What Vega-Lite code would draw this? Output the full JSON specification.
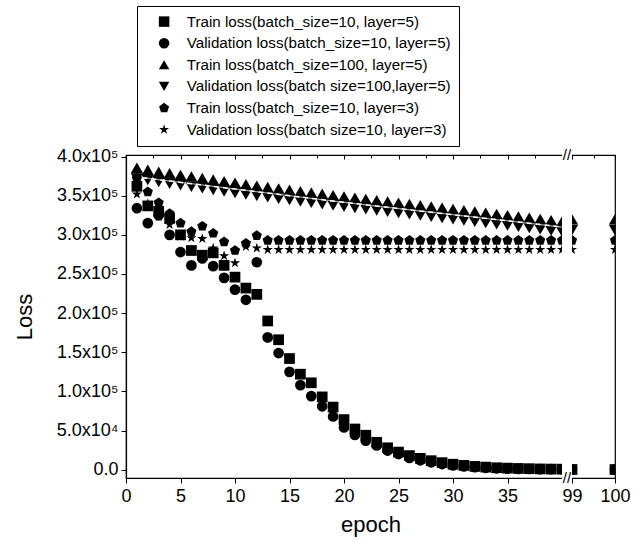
{
  "$schema": "https://vega.github.io/schema/vega-lite/v6.json",
  "autosize": {"type": "none"},
  "padding": {"left": 126, "top": 154, "right": 515, "bottom": 388},
  "background": "white",
  "bounds": "flush",
  "spacing": 0,
  "datasets": {
    "names": [
      {"k": "S", "series": "Train loss(batch_size=10, layer=5)"},
      {"k": "C", "series": "Validation loss(batch_size=10, layer=5)"},
      {"k": "U", "series": "Train loss(batch_size=100, layer=5)"},
      {"k": "D", "series": "Validation loss(batch size=100,layer=5)"},
      {"k": "P", "series": "Train loss(batch_size=10, layer=3)"},
      {"k": "T", "series": "Validation loss(batch size=10, layer=3)"}
    ],
    "fit": [
      {"e": 1.5, "v": 373000}, {"e": 20, "v": 341500}, {"e": 40, "v": 310000}
    ],
    "loss": [
      {"k":"S","e":1,"v":362000},{"k":"S","e":2,"v":337000},{"k":"S","e":3,"v":330000},{"k":"S","e":4,"v":321000},{"k":"S","e":5,"v":300000},{"k":"S","e":6,"v":280000},{"k":"S","e":7,"v":274000},{"k":"S","e":8,"v":277000},{"k":"S","e":9,"v":261000},{"k":"S","e":10,"v":246000},{"k":"S","e":11,"v":232000},{"k":"S","e":12,"v":224000},{"k":"S","e":13,"v":190000},{"k":"S","e":14,"v":166000},{"k":"S","e":15,"v":142000},{"k":"S","e":16,"v":122000},{"k":"S","e":17,"v":111000},{"k":"S","e":18,"v":93000},{"k":"S","e":19,"v":80000},{"k":"S","e":20,"v":64000},{"k":"S","e":21,"v":52000},{"k":"S","e":22,"v":44000},{"k":"S","e":23,"v":35000},{"k":"S","e":24,"v":28000},{"k":"S","e":25,"v":22500},{"k":"S","e":26,"v":18000},{"k":"S","e":27,"v":14500},{"k":"S","e":28,"v":11500},{"k":"S","e":29,"v":9000},{"k":"S","e":30,"v":7000},{"k":"S","e":31,"v":5500},{"k":"S","e":32,"v":4200},{"k":"S","e":33,"v":3300},{"k":"S","e":34,"v":2500},{"k":"S","e":35,"v":2000},{"k":"S","e":36,"v":1600},{"k":"S","e":37,"v":1300},{"k":"S","e":38,"v":1000},{"k":"S","e":39,"v":800},{"k":"S","e":40,"v":700},{"k":"S","e":99,"v":300},{"k":"S","e":100,"v":200},
      {"k":"C","e":1,"v":334000},{"k":"C","e":2,"v":315000},{"k":"C","e":3,"v":325000},{"k":"C","e":4,"v":300000},{"k":"C","e":5,"v":278000},{"k":"C","e":6,"v":261000},{"k":"C","e":7,"v":270000},{"k":"C","e":8,"v":260000},{"k":"C","e":9,"v":245000},{"k":"C","e":10,"v":230000},{"k":"C","e":11,"v":217000},{"k":"C","e":12,"v":265000},{"k":"C","e":13,"v":169000},{"k":"C","e":14,"v":149000},{"k":"C","e":15,"v":125000},{"k":"C","e":16,"v":108000},{"k":"C","e":17,"v":94000},{"k":"C","e":18,"v":81000},{"k":"C","e":19,"v":68000},{"k":"C","e":20,"v":54000},{"k":"C","e":21,"v":44500},{"k":"C","e":22,"v":37000},{"k":"C","e":23,"v":31000},{"k":"C","e":24,"v":24500},{"k":"C","e":25,"v":20000},{"k":"C","e":26,"v":15000},{"k":"C","e":27,"v":12000},{"k":"C","e":28,"v":9500},{"k":"C","e":29,"v":7200},{"k":"C","e":30,"v":5500},{"k":"C","e":31,"v":4200},{"k":"C","e":32,"v":3200},{"k":"C","e":33,"v":2400},{"k":"C","e":34,"v":1800},{"k":"C","e":35,"v":1400},{"k":"C","e":36,"v":1100},{"k":"C","e":37,"v":900},{"k":"C","e":38,"v":700},{"k":"C","e":39,"v":600},{"k":"C","e":40,"v":500},{"k":"C","e":99,"v":100},{"k":"C","e":100,"v":100},
      {"k":"U","e":1,"v":385500},{"k":"U","e":2,"v":383000},{"k":"U","e":3,"v":380500},{"k":"U","e":4,"v":378500},{"k":"U","e":5,"v":376500},{"k":"U","e":6,"v":374500},{"k":"U","e":7,"v":372500},{"k":"U","e":8,"v":370500},{"k":"U","e":9,"v":368500},{"k":"U","e":10,"v":366500},{"k":"U","e":11,"v":364500},{"k":"U","e":12,"v":362700},{"k":"U","e":13,"v":361000},{"k":"U","e":14,"v":359200},{"k":"U","e":15,"v":357500},{"k":"U","e":16,"v":355700},{"k":"U","e":17,"v":354000},{"k":"U","e":18,"v":352300},{"k":"U","e":19,"v":350600},{"k":"U","e":20,"v":349000},{"k":"U","e":21,"v":347400},{"k":"U","e":22,"v":345800},{"k":"U","e":23,"v":344200},{"k":"U","e":24,"v":342600},{"k":"U","e":25,"v":341000},{"k":"U","e":26,"v":339400},{"k":"U","e":27,"v":337800},{"k":"U","e":28,"v":336200},{"k":"U","e":29,"v":334600},{"k":"U","e":30,"v":333000},{"k":"U","e":31,"v":331400},{"k":"U","e":32,"v":329800},{"k":"U","e":33,"v":328200},{"k":"U","e":34,"v":326600},{"k":"U","e":35,"v":325000},{"k":"U","e":36,"v":323400},{"k":"U","e":37,"v":321800},{"k":"U","e":38,"v":320200},{"k":"U","e":39,"v":318600},{"k":"U","e":40,"v":317000},{"k":"U","e":99,"v":320000},{"k":"U","e":100,"v":320000},
      {"k":"D","e":1,"v":372000},{"k":"D","e":2,"v":370000},{"k":"D","e":3,"v":367500},{"k":"D","e":4,"v":365500},{"k":"D","e":5,"v":363500},{"k":"D","e":6,"v":361500},{"k":"D","e":7,"v":359500},{"k":"D","e":8,"v":357500},{"k":"D","e":9,"v":355500},{"k":"D","e":10,"v":353500},{"k":"D","e":11,"v":351500},{"k":"D","e":12,"v":349800},{"k":"D","e":13,"v":348000},{"k":"D","e":14,"v":346200},{"k":"D","e":15,"v":344500},{"k":"D","e":16,"v":342700},{"k":"D","e":17,"v":341000},{"k":"D","e":18,"v":339300},{"k":"D","e":19,"v":337600},{"k":"D","e":20,"v":336000},{"k":"D","e":21,"v":334400},{"k":"D","e":22,"v":332800},{"k":"D","e":23,"v":331200},{"k":"D","e":24,"v":329600},{"k":"D","e":25,"v":328000},{"k":"D","e":26,"v":326400},{"k":"D","e":27,"v":324800},{"k":"D","e":28,"v":323200},{"k":"D","e":29,"v":321600},{"k":"D","e":30,"v":320000},{"k":"D","e":31,"v":318400},{"k":"D","e":32,"v":316800},{"k":"D","e":33,"v":315200},{"k":"D","e":34,"v":313600},{"k":"D","e":35,"v":312000},{"k":"D","e":36,"v":310400},{"k":"D","e":37,"v":308800},{"k":"D","e":38,"v":307200},{"k":"D","e":39,"v":305600},{"k":"D","e":40,"v":304000},{"k":"D","e":99,"v":306000},{"k":"D","e":100,"v":306000},
      {"k":"P","e":1,"v":372000},{"k":"P","e":2,"v":355000},{"k":"P","e":3,"v":341000},{"k":"P","e":4,"v":327000},{"k":"P","e":5,"v":315000},{"k":"P","e":6,"v":304000},{"k":"P","e":7,"v":311000},{"k":"P","e":8,"v":302000},{"k":"P","e":9,"v":291000},{"k":"P","e":10,"v":280000},{"k":"P","e":11,"v":289000},{"k":"P","e":12,"v":299000},{"k":"P","e":13,"v":293000},{"k":"P","e":14,"v":293000},{"k":"P","e":15,"v":293000},{"k":"P","e":16,"v":293000},{"k":"P","e":17,"v":293000},{"k":"P","e":18,"v":293000},{"k":"P","e":19,"v":293000},{"k":"P","e":20,"v":293000},{"k":"P","e":21,"v":293000},{"k":"P","e":22,"v":293000},{"k":"P","e":23,"v":293000},{"k":"P","e":24,"v":293000},{"k":"P","e":25,"v":293000},{"k":"P","e":26,"v":293000},{"k":"P","e":27,"v":293000},{"k":"P","e":28,"v":293000},{"k":"P","e":29,"v":293000},{"k":"P","e":30,"v":293000},{"k":"P","e":31,"v":293000},{"k":"P","e":32,"v":293000},{"k":"P","e":33,"v":293000},{"k":"P","e":34,"v":293000},{"k":"P","e":35,"v":293000},{"k":"P","e":36,"v":293000},{"k":"P","e":37,"v":293000},{"k":"P","e":38,"v":293000},{"k":"P","e":39,"v":293000},{"k":"P","e":40,"v":293000},{"k":"P","e":99,"v":293000},{"k":"P","e":100,"v":293000},
      {"k":"T","e":1,"v":352000},{"k":"T","e":2,"v":340000},{"k":"T","e":3,"v":323000},{"k":"T","e":4,"v":313000},{"k":"T","e":5,"v":298000},{"k":"T","e":6,"v":296000},{"k":"T","e":7,"v":295000},{"k":"T","e":8,"v":283000},{"k":"T","e":9,"v":273000},{"k":"T","e":10,"v":264000},{"k":"T","e":11,"v":285000},{"k":"T","e":12,"v":283000},{"k":"T","e":13,"v":281000},{"k":"T","e":14,"v":281000},{"k":"T","e":15,"v":281000},{"k":"T","e":16,"v":281000},{"k":"T","e":17,"v":281000},{"k":"T","e":18,"v":281000},{"k":"T","e":19,"v":281000},{"k":"T","e":20,"v":281000},{"k":"T","e":21,"v":281000},{"k":"T","e":22,"v":281000},{"k":"T","e":23,"v":281000},{"k":"T","e":24,"v":281000},{"k":"T","e":25,"v":281000},{"k":"T","e":26,"v":281000},{"k":"T","e":27,"v":281000},{"k":"T","e":28,"v":281000},{"k":"T","e":29,"v":281000},{"k":"T","e":30,"v":281000},{"k":"T","e":31,"v":281000},{"k":"T","e":32,"v":281000},{"k":"T","e":33,"v":281000},{"k":"T","e":34,"v":281000},{"k":"T","e":35,"v":281000},{"k":"T","e":36,"v":281000},{"k":"T","e":37,"v":281000},{"k":"T","e":38,"v":281000},{"k":"T","e":39,"v":281000},{"k":"T","e":40,"v":281000},{"k":"T","e":99,"v":281000},{"k":"T","e":100,"v":281000}
    ]
  },
  "vconcat": [
    {
      "width": 489,
      "height": 1,
      "view": {"stroke": null},
      "data": {"values": [{}]},
      "mark": {"type": "point", "opacity": 0},
      "encoding": {
        "x": {"datum": 50, "type": "quantitative",
          "scale": {"domain": [0, 40, 99, 100], "range": [0, 436, 446, 489], "zero": false, "nice": false},
          "axis": {"orient": "bottom", "title": null, "labels": false, "values": [0,2.5,5,7.5,10,12.5,15,17.5,20,22.5,25,27.5,30,32.5,35,37.5,99,99.5,100],
            "tickSize": {"condition": {"test": "datum.value % 5 == 0 || datum.value == 99", "value": 4}, "value": 3}}}
      }
    },
    {
      "width": 489,
      "height": 323,
      "view": {"stroke": "black", "strokeWidth": 1.2},
      "layer": [
        {
          "data": {"name": "loss"},
          "transform": [
            {"filter": "datum.k != 'U' && datum.k != 'D'"},
            {"lookup": "k", "from": {"data": {"name": "names"}, "key": "k", "fields": ["series"]}}
          ],
          "mark": {"type": "point", "filled": true, "clip": true, "opacity": 1, "strokeWidth": 0, "size": 115},
          "encoding": {
            "x": {"field": "e", "type": "quantitative",
              "scale": {"domain": [0, 40, 99, 100], "range": [0, 436, 446, 489], "zero": false, "nice": false},
              "axis": {"orient": "bottom", "title": "epoch", "values": [0,2.5,5,7.5,10,12.5,15,17.5,20,22.5,25,27.5,30,32.5,35,37.5,99,99.5,100],
                "format": "d", "labelExpr": "(datum.value % 5 == 0 || datum.value == 99) ? datum.label : ''",
                "tickSize": {"condition": {"test": "datum.value % 5 == 0 || datum.value == 99", "value": 5}, "value": 3},
                "labelPadding": 4, "titlePadding": 9, "labelFlush": false, "labelOverlap": false}},
            "y": {"field": "v", "type": "quantitative",
              "scale": {"domain": [-10600, 402000], "zero": false, "nice": false},
              "axis": {"orient": "left", "title": "Loss", "values": [0,25000,50000,75000,100000,125000,150000,175000,200000,225000,250000,275000,300000,325000,350000,375000,400000],
                "labelExpr": "datum.value % 50000 != 0 ? '' : (datum.value == 0 ? '0.0' : (datum.value < 100000 ? format(datum.value / 10000, '.1f') + 'x10⁴' : format(datum.value / 100000, '.1f') + 'x10⁵'))",
                "tickSize": {"condition": {"test": "datum.value % 50000 == 0", "value": 5}, "value": 3},
                "labelPadding": 3, "titlePadding": 20, "labelFlush": false, "labelOverlap": false}},
            "shape": {"field": "series", "type": "nominal",
              "scale": {"domain": ["Train loss(batch_size=10, layer=5)", "Validation loss(batch_size=10, layer=5)", "Train loss(batch_size=100, layer=5)", "Validation loss(batch size=100,layer=5)", "Train loss(batch_size=10, layer=3)", "Validation loss(batch size=10, layer=3)"],
                "range": ["square", "circle", "triangle-up", "triangle-down", "M0,-1L0.951,-0.309L0.588,0.809L-0.588,0.809L-0.951,-0.309Z", "M0,-1L0.2245,-0.309L0.951,-0.309L0.363,0.118L0.588,0.809L0,0.382L-0.588,0.809L-0.363,0.118L-0.951,-0.309L-0.2245,-0.309Z"]},
              "legend": {"title": null, "orient": "none", "legendX": 11, "legendY": -148, "padding": 8, "strokeColor": "black", "fillColor": "white",
                "labelFont": "Liberation Sans", "labelFontSize": 15.2, "labelColor": "black", "labelLimit": 400,
                "symbolSize": 110, "symbolFillColor": "black", "symbolStrokeWidth": 0, "symbolOffset": 11.5, "labelOffset": 15, "rowPadding": 5.6}},
            "color": {"value": "black"}
          }
        },
        {
          "data": {"name": "loss"},
          "transform": [
            {"filter": "datum.k == 'U' || datum.k == 'D'"},
            {"lookup": "k", "from": {"data": {"name": "names"}, "key": "k", "fields": ["series"]}}
          ],
          "mark": {"type": "point", "filled": true, "clip": true, "opacity": 1, "strokeWidth": 0, "size": 150},
          "encoding": {
            "x": {"field": "e", "type": "quantitative"},
            "y": {"field": "v", "type": "quantitative"},
            "shape": {"field": "series", "type": "nominal"},
            "color": {"value": "black"}
          }
        },
        {
          "data": {"name": "fit"},
          "mark": {"type": "line", "color": "#999999", "strokeWidth": 1.3},
          "encoding": {
            "x": {"field": "e", "type": "quantitative"},
            "y": {"field": "v", "type": "quantitative"}
          }
        },
        {
          "data": {"name": "fit"},
          "mark": {"type": "line", "color": "white", "strokeWidth": 1.5, "strokeDash": [5, 4]},
          "encoding": {
            "x": {"field": "e", "type": "quantitative"},
            "y": {"field": "v", "type": "quantitative"}
          }
        },
        {
          "data": {"values": [{}]},
          "mark": {"type": "rect", "color": "white", "clip": false},
          "encoding": {
            "x": {"datum": 40, "type": "quantitative"},
            "x2": {"datum": 99},
            "y": {"datum": -15000, "type": "quantitative"},
            "y2": {"datum": 410000}
          }
        },
        {
          "data": {"values": [{}]},
          "mark": {"type": "text", "text": "//", "font": "Liberation Sans", "fontSize": 15, "color": "black", "baseline": "middle", "align": "center", "clip": false},
          "encoding": {
            "x": {"datum": 69.5, "type": "quantitative"},
            "y": {"datum": 402000, "type": "quantitative"}
          }
        },
        {
          "data": {"values": [{}]},
          "mark": {"type": "text", "text": "//", "font": "Liberation Sans", "fontSize": 15, "color": "black", "baseline": "middle", "align": "center", "clip": false},
          "encoding": {
            "x": {"datum": 69.5, "type": "quantitative"},
            "y": {"datum": -10600, "type": "quantitative"}
          }
        }
      ]
    }
  ],
  "config": {
    "font": "Liberation Sans",
    "axis": {"domainColor": "black", "domainWidth": 1.2, "tickColor": "black", "tickWidth": 1, "labelColor": "black", "titleColor": "black",
      "labelFont": "Liberation Sans", "titleFont": "Liberation Sans", "labelFontSize": 18, "titleFontSize": 22, "titleFontWeight": "normal", "grid": false}
  }
}
